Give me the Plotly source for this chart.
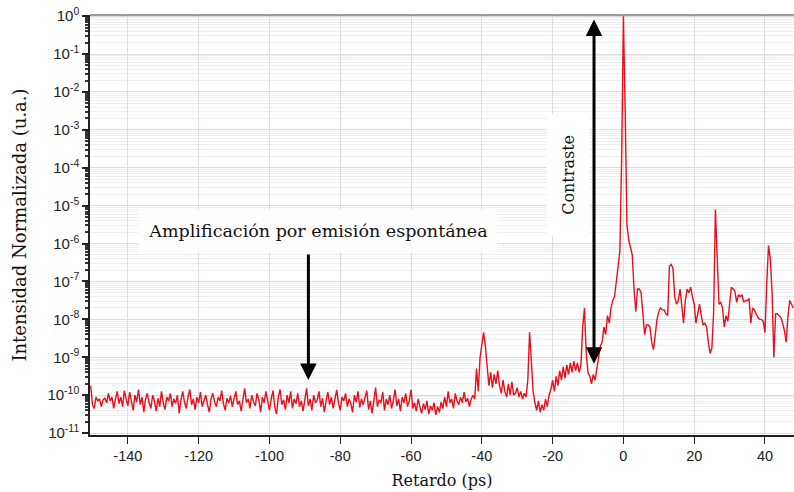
import numpy as np
import plotly.graph_objects as go

# ---- data (log10 of normalized intensity, sampled every 0.5 ps from -150.5 ps) ----
start_ps = -150.5
step_ps = 0.5
log_intensity = [
    # -150.5 .. -141
    -9.75, -10.25, -10.35, -10.05, -10.15, -10.1, -10.3, -10.12, -10.08, -10.2, -9.95, -10.15, -10.05, -10.35, -10.1, -9.9, -10.22, -10.05, -10.3, -9.88,
    # -140.5 .. -131
    -10.1, -10.28, -9.92, -10.15, -10.4, -10.0, -10.18, -9.85, -10.25, -10.05, -10.45, -10.1, -9.95, -10.2, -10.35, -10.0, -10.15, -10.42, -10.08, -10.3,
    # -130.5 .. -121
    -9.9, -10.2, -10.38, -10.05, -10.15, -9.95, -10.3, -10.1, -10.22, -10.0, -10.48, -10.12, -9.9, -10.18, -10.35, -10.05, -9.85, -10.25, -10.1, -10.38,
    # -120.5 .. -111
    -10.05, -10.2, -9.92, -10.3, -10.12, -10.0, -10.25, -10.45, -10.1, -9.95, -10.18, -10.3, -10.05, -10.15, -9.88, -10.22, -10.4, -10.08, -10.2, -10.02,
    # -110.5 .. -101
    -10.3, -10.1, -9.9, -10.25, -10.15, -10.42, -10.05, -9.82, -10.2, -10.1, -10.35, -10.0, -10.18, -10.28, -9.95, -10.12, -10.45, -10.05, -10.2, -9.9,
    # -100.5 .. -91
    -10.15, -10.4, -10.1, -9.88, -10.3, -10.5, -10.05, -9.85, -10.25, -10.12, -10.38, -10.0, -10.2, -9.9, -10.35, -10.1, -10.22, -9.95, -10.3, -10.15,
    # -90.5 .. -81
    -10.42, -10.05, -9.82, -10.28, -10.1, -10.4, -10.0, -10.2, -10.12, -9.9, -10.3, -10.08, -10.45, -10.15, -9.92, -10.25, -10.05, -10.35, -10.1, -9.86,
    # -80.5 .. -71
    -10.2, -10.4, -10.05, -10.15, -9.95, -10.3, -10.1, -10.22, -10.45, -10.0, -10.18, -9.9, -10.32, -10.1, -10.25, -10.05, -9.88, -10.38, -10.15, -10.48,
    # -70.5 .. -61
    -10.05, -9.8, -10.3, -10.12, -10.2, -9.92, -10.4, -10.1, -10.25, -10.0, -10.35, -10.15, -9.85, -10.28, -10.1, -10.42, -10.05, -10.2, -9.95, -10.3,
    # -60.5 .. -51
    -10.15, -9.85, -10.35, -10.2, -10.42, -10.1, -10.3, -10.48, -10.22, -10.38, -10.15, -10.5, -10.28, -10.4, -10.2, -10.52, -10.3, -10.45, -10.18, -10.35,
    # -50.5 .. -41
    -10.05, -10.3, -9.9, -10.2, -10.1, -10.35, -9.95, -10.15, -10.25, -10.05, -10.2, -9.92, -10.18, -10.08, -10.3, -10.1, -10.0, -10.1, -9.3, -9.9,
    # -40.5 .. -31
    -9.0, -8.6, -8.34, -8.7, -9.35, -9.75, -9.4, -9.8, -9.45, -9.7, -9.35, -9.75, -9.95, -9.6, -9.9, -10.05, -9.7, -10.0, -9.65, -10.0,
    # -30.5 .. -21
    -9.95, -9.8, -10.05, -9.9, -10.1, -9.95, -10.05, -9.6, -8.34, -9.0, -9.9, -10.2, -10.4, -10.15, -10.45, -10.25, -10.4, -10.1, -10.3, -10.0,
    # -20.5 .. -11
    -9.85, -9.6, -9.9, -9.5, -9.75, -9.35, -9.6, -9.25, -9.55, -9.2, -9.45, -9.15, -9.4, -9.1, -9.35, -9.15, -9.4, -9.2, -8.2, -7.7,
    # -10.5 .. -1
    -8.9, -9.4, -9.5, -9.7, -9.45, -9.6, -9.3, -9.1, -8.7, -8.6, -8.2, -8.4, -7.9, -8.1, -7.7, -7.5, -7.4, -7.0, -6.6, -6.2,
    # -0.5 .. 9
    -3.8, 0.0, -2.5, -5.5, -5.9, -6.1, -6.3, -7.2, -7.8, -7.2, -7.2, -7.3, -7.8, -8.4, -8.15, -8.15, -8.2, -8.6, -8.8, -8.3,
    # 9.5 .. 19
    -8.0, -7.8, -7.7, -7.75, -7.75, -7.85, -7.9, -6.6, -6.55, -6.65, -7.4, -7.6, -7.5, -7.2, -7.7, -8.1, -7.5, -7.2, -7.3, -7.15,
    # 19.5 .. 29
    -7.4, -7.6, -8.1, -7.8, -7.6, -7.9, -8.15, -8.1, -8.2, -8.6, -8.9, -8.75, -7.8, -5.1, -6.2, -7.6, -7.55, -7.7, -8.2, -7.9,
    # 29.5 .. 39
    -8.05, -7.6, -7.15, -7.2, -7.25, -7.55, -7.35, -7.4, -7.35, -7.55, -7.5, -7.5, -7.45, -8.1, -7.7, -7.75, -7.85, -7.95, -8.0, -8.0,
    # 39.5 .. 48
    -8.05, -8.35, -7.05, -6.05, -6.4, -7.3, -9.0, -7.85, -7.85, -7.9, -7.95, -8.1, -8.3, -8.6, -7.9, -7.5, -7.6, -7.7,
]

delay_ps = [start_ps + step_ps * i for i in range(len(log_intensity))]
intensity = [10 ** v for v in log_intensity]

x_tick_vals = [-140, -120, -100, -80, -60, -40, -20, 0, 20, 40]
y_exponents = list(range(0, -12, -1))
y_tick_vals = [10.0 ** e for e in y_exponents]
y_tick_text = [f"10<sup>{e}</sup>" for e in y_exponents]
y_minor_vals = [m * 10.0 ** e for e in range(-11, 0) for m in range(2, 10)]

label_amp = "Amplificación por emisión espontánea"
label_con = "Contraste"
x_title = "Retardo (ps)"
y_title = "Intensidad Normalizada (u.a.)"

serif = "DejaVu Serif"
sans = "Liberation Sans"

fig = go.Figure()
fig.add_trace(go.Scatter(x=delay_ps, y=intensity, mode="lines",
                         line=dict(color="#e8101a", width=1.4), showlegend=False,
                         hoverinfo="skip"))

fig.update_layout(
    width=794, height=492,
    margin=dict(l=90, r=0, t=15, b=57),
    paper_bgcolor="white", plot_bgcolor="white",
    xaxis=dict(
        range=[-150.7, 48.2], tickmode="array", tickvals=x_tick_vals,
        ticktext=[str(v) for v in x_tick_vals],
        ticks="outside", ticklen=7, tickwidth=1.2, tickcolor="#222",
        showline=True, linecolor="#222", linewidth=1.5,
        showgrid=True, gridcolor="#dcdce4", gridwidth=1,
        zeroline=False,
        tickfont=dict(family=sans, size=14.5, color="#222"),
        title=dict(text=x_title, font=dict(family=serif, size=16, color="#111"), standoff=12),
    ),
    yaxis=dict(
        type="log", range=[-11.05, 0.03],
        tickmode="array", tickvals=y_tick_vals, ticktext=y_tick_text,
        ticks="outside", ticklen=6, tickwidth=1.5, tickcolor="#222",
        showline=True, linecolor="#222", linewidth=1.5,
        showgrid=True, gridcolor="#dcdce6", gridwidth=1,
        zeroline=False,
        tickfont=dict(family=sans, size=15, color="#222"),
        minor=dict(tickmode="array", tickvals=y_minor_vals, ticks="outside",
                   ticklen=3, tickcolor="#333", showgrid=True,
                   gridcolor="#eeeef3", gridwidth=1),
        title=dict(text=y_title, font=dict(family=serif, size=18, color="#111"), standoff=16),
    ),
)

# top frame line
fig.add_shape(type="line", xref="paper", yref="paper", x0=0, x1=1, y0=1, y1=1,
              line=dict(color="#7a7a7a", width=1.5))

# amplification label with white box
fig.add_annotation(x=-86.2, y=-5.67, xref="x", yref="y", text=label_amp,
                   showarrow=False, bgcolor="white", width=356, height=40,
                   font=dict(family=serif, size=17.5, color="#111"))
# arrow down
fig.add_annotation(x=-89, y=-9.6, ax=-89, ay=-6.25, xref="x", yref="y",
                   axref="x", ayref="y", text="", showarrow=True,
                   arrowhead=2, arrowsize=1.1, arrowwidth=3, arrowcolor="black")

# contrast label (vertical) with white box
fig.add_annotation(x=-15.5, y=-4.2, xref="x", yref="y", text=label_con,
                   showarrow=False, bgcolor="white", textangle=-90,
                   width=118, height=40,
                   font=dict(family=serif, size=16, color="#111"))
# double arrow
fig.add_annotation(x=-8.3, y=-9.17, ax=-8.3, ay=-0.05, xref="x", yref="y",
                   axref="x", ayref="y", text="", showarrow=True,
                   arrowhead=2, startarrowhead=2, arrowside="end+start",
                   arrowsize=1.1, startarrowsize=1.1, arrowwidth=3, arrowcolor="black")

fig.write_html("out.html")
